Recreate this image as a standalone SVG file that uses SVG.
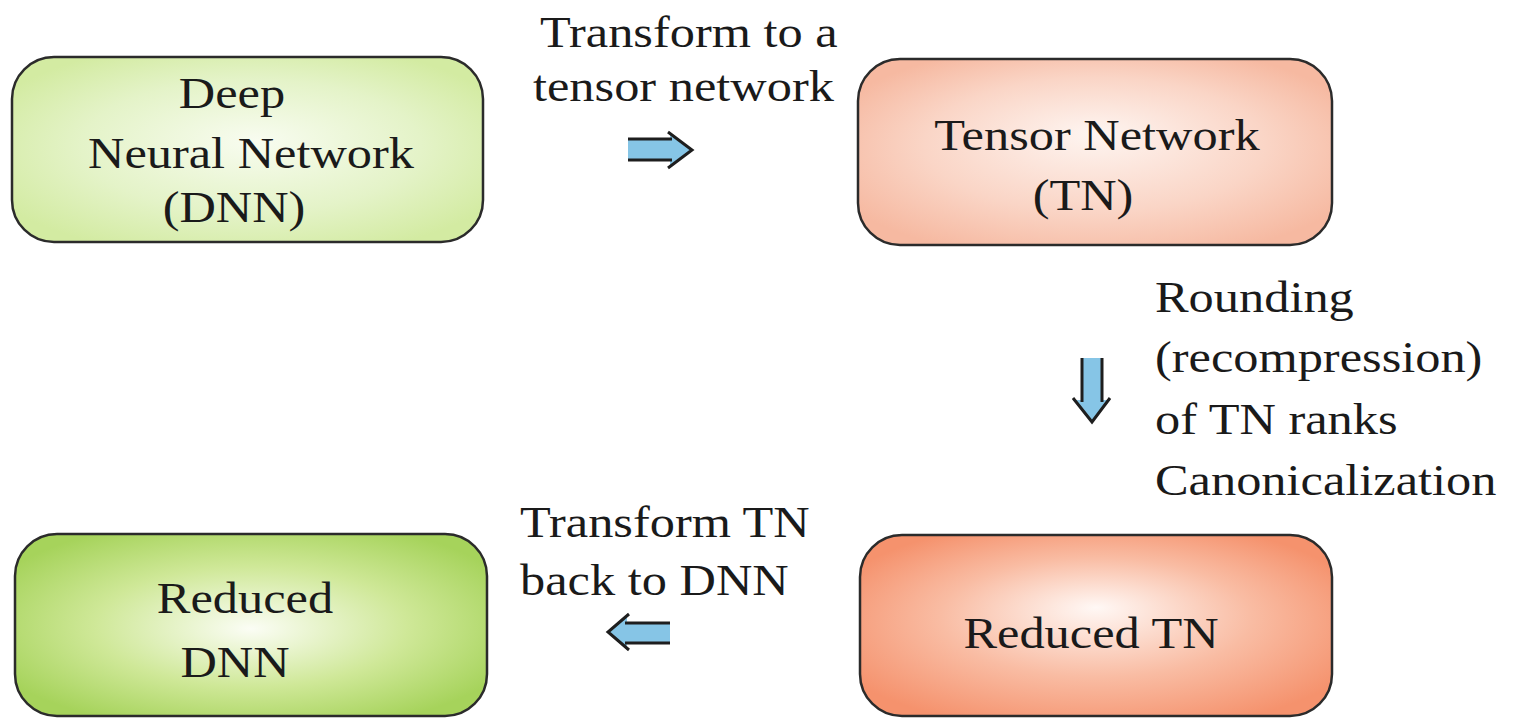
<svg xmlns="http://www.w3.org/2000/svg" width="1513" height="718" viewBox="0 0 1513 718">
<defs>
<radialGradient id="gDnn" cx="50%" cy="50%" r="60%" fx="52%" fy="45%">
<stop offset="0" stop-color="#f8fcf0"/><stop offset="0.6" stop-color="#e4f3c8"/><stop offset="1" stop-color="#d3eba2"/>
</radialGradient>
<radialGradient id="gTn" cx="50%" cy="50%" r="60%" fx="50%" fy="40%">
<stop offset="0" stop-color="#fef5f1"/><stop offset="0.6" stop-color="#fad5c6"/><stop offset="1" stop-color="#f6b9a1"/>
</radialGradient>
<radialGradient id="gRdnn" cx="50%" cy="50%" r="60%" fx="50%" fy="52%">
<stop offset="0" stop-color="#fbfdf5"/><stop offset="0.55" stop-color="#cfe898"/><stop offset="1" stop-color="#a6d35b"/>
</radialGradient>
<radialGradient id="gRtn" cx="50%" cy="50%" r="60%" fx="50%" fy="40%">
<stop offset="0" stop-color="#fff8f5"/><stop offset="0.55" stop-color="#f9bca3"/><stop offset="1" stop-color="#f5926d"/>
</radialGradient>
</defs>
<style>
.box{stroke:#2b2b2b;stroke-width:2.5}
text{font-family:"Liberation Serif","Times New Roman",serif;font-size:45px;fill:#1a1a1a}
.c{text-anchor:middle}
.afill{fill:#86c5e6;stroke:none}
.aline{fill:none;stroke:#1e1e1e;stroke-width:3;stroke-linejoin:miter}
</style>
<rect width="1513" height="718" fill="#ffffff"/>

<g id="node-dnn">
<rect class="box" x="12" y="57" width="471" height="185" rx="42" fill="url(#gDnn)"/>
<text class="c" transform="translate(232,108) scale(1.12,1)">Deep</text>
<text class="c" transform="translate(251,168) scale(1.12,1)">Neural Network</text>
<text class="c" transform="translate(234,222) scale(1.12,1)">(DNN)</text>
</g>

<g id="node-tn">
<rect class="box" x="858" y="59" width="474" height="186" rx="42" fill="url(#gTn)"/>
<text class="c" transform="translate(1097,150) scale(1.12,1)">Tensor Network</text>
<text class="c" transform="translate(1083,210) scale(1.12,1)">(TN)</text>
</g>

<g id="node-reduced-dnn">
<rect class="box" x="15" y="534" width="472" height="182" rx="42" fill="url(#gRdnn)"/>
<text class="c" transform="translate(245,613) scale(1.12,1)">Reduced</text>
<text class="c" transform="translate(235,677) scale(1.12,1)">DNN</text>
</g>

<g id="node-reduced-tn">
<rect class="box" x="860" y="535" width="472" height="181" rx="42" fill="url(#gRtn)"/>
<text class="c" transform="translate(1091,648) scale(1.12,1)">Reduced TN</text>
</g>

<g id="connectors">
<g id="arrow-right">
<polygon class="afill" points="628,139 670,139 670,133 692,150 670,168 670,160 628,160"/>
<path class="aline" d="M628,139 H672 M628,160 H672 M668,132 L692,150 L668,168"/>
</g>
<g id="arrow-down">
<polygon class="afill" points="1082,358 1102,358 1102,400 1110,400 1092,422 1073,400 1082,400"/>
<path class="aline" d="M1082,358 V402 M1102,358 V402 M1073,398 L1092,422 L1110,398"/>
</g>
<g id="arrow-left">
<polygon class="afill" points="670,623 627,623 627,615 608,632 627,650 627,643 670,643"/>
<path class="aline" d="M670,623 H625 M670,643 H625 M629,614 L608,632 L629,650"/>
</g>
<text transform="translate(540,47) scale(1.12,1)">Transform to a</text>
<text transform="translate(533,101) scale(1.12,1)">tensor network</text>
<text transform="translate(1155,312) scale(1.12,1)">Rounding</text>
<text transform="translate(1155,372) scale(1.12,1)">(recompression)</text>
<text transform="translate(1155,434) scale(1.12,1)">of TN ranks</text>
<text transform="translate(1155,495) scale(1.12,1)">Canonicalization</text>
<text transform="translate(520,537) scale(1.12,1)">Transform TN</text>
<text transform="translate(520,595) scale(1.12,1)">back to DNN</text>
</g>
</svg>
